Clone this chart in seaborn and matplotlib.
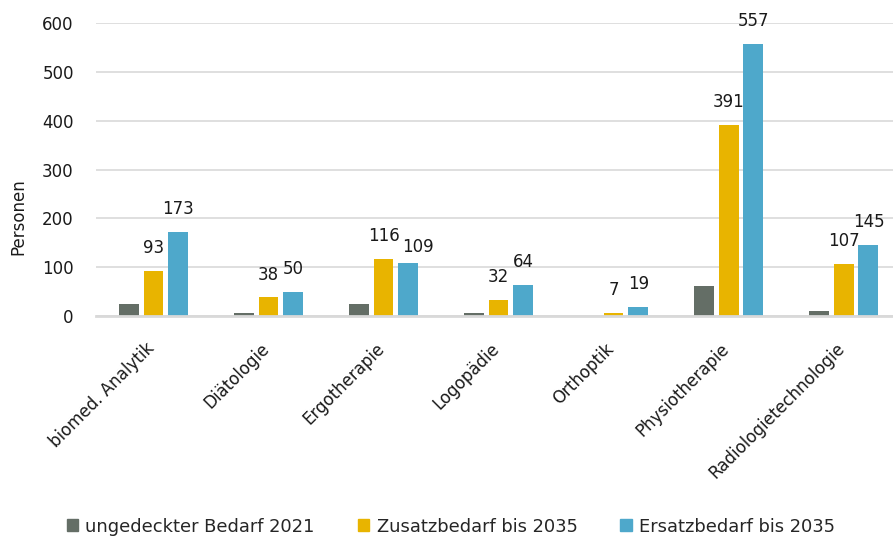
import pandas as pd
import matplotlib
matplotlib.use("Agg")
import matplotlib.pyplot as plt
import matplotlib.transforms as mtransforms
import seaborn as sns

# Data
berufe = ["biomed. Analytik", "Diätologie", "Ergotherapie", "Logopädie",
          "Orthoptik", "Physiotherapie", "Radiologietechnologie"]
ungedeckt_2021 = [24, 7, 24, 7, 0, 62, 10]
zusatz_2035 = [93, 38, 116, 32, 7, 391, 107]
ersatz_2035 = [173, 50, 109, 64, 19, 557, 145]

serien = ["ungedeckter Bedarf 2021", "Zusatzbedarf bis 2035", "Ersatzbedarf bis 2035"]
farben = ["#646E66", "#E8B400", "#4EA8CB"]

df = pd.DataFrame({
    "Beruf": berufe * 3,
    "Serie": [serien[0]] * 7 + [serien[1]] * 7 + [serien[2]] * 7,
    "Personen": ungedeckt_2021 + zusatz_2035 + ersatz_2035,
})

sns.set_theme(style="white")
plt.rcParams["font.family"] = ["DejaVu Sans"]

fig = plt.figure(figsize=(8.93, 5.4), dpi=100)
ax = fig.add_axes([0.1075, 0.4148, 0.8925, 0.5426])

sns.barplot(data=df, x="Beruf", y="Personen", hue="Serie", order=berufe,
            hue_order=serien, palette=farben, saturation=1, width=0.65, gap=0.2,
            linewidth=0, ax=ax, legend=False)

# labels only for the 2035 series; the 109 label sits a bit lower/right
for i, cont in enumerate(ax.containers[1:]):
    labels = ax.bar_label(cont, padding=10, fontsize=12, color="#1a1a1a")
    if i == 1:
        labels[2].set_position((7, 5))

ax.set_ylim(0, 600)
ax.set_xlim(-0.5, 6.43)
ax.set_yticks(range(0, 601, 100))
ax.yaxis.grid(True, color="#d9d9d9", linewidth=1.2)
ax.set_axisbelow(True)
for s in ["left", "right", "top"]:
    ax.spines[s].set_visible(False)
ax.spines["bottom"].set_color("#d9d9d9")
ax.spines["bottom"].set_linewidth(2)

ax.tick_params(axis="y", length=0, pad=16, labelsize=12, labelcolor="#1a1a1a")
ax.tick_params(axis="x", length=0, pad=17, labelsize=12, labelcolor="#1a1a1a")
shift = mtransforms.ScaledTranslation(-6 / 72, 0, fig.dpi_scale_trans)
for lab in ax.get_xticklabels():
    lab.set_rotation(45)
    lab.set_ha("right")
    lab.set_rotation_mode("anchor")
    lab.set_transform(lab.get_transform() + shift)

ax.set_xlabel("")
ax.set_ylabel("Personen", fontsize=12, color="#1a1a1a")
ax.yaxis.set_label_coords(-0.086, 0.338)

handles = [plt.Rectangle((0, 0), 1, 1, color=c) for c in farben]
fig.legend(handles, serien, loc="lower center", bbox_to_anchor=(0.505, -0.022),
           ncol=3, frameon=False, fontsize=12.9, handlelength=0.65,
           handleheight=0.65, handletextpad=0.4, columnspacing=2.4)

fig.savefig("out.png", dpi=100)
